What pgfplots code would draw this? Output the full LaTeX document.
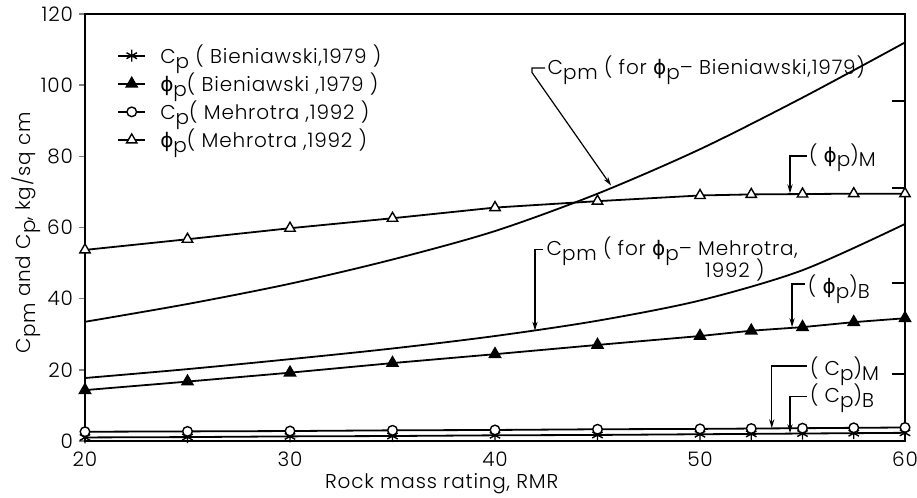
\documentclass[border=0pt]{standalone}
\usepackage{fontspec}
\IfFontExistsTF{Poppins Light}
  {\setmainfont{Poppins Light}[LetterSpace=4]}
  {\setmainfont{Poppins}[LetterSpace=4]}
\newfontfamily\greekfont{DejaVu Sans}
\usepackage{pgfplots}
\usepackage{pgfplotstable}
\pgfplotsset{compat=1.18}
\usetikzlibrary{arrows.meta}

\newcommand{\sub}[1]{\raisebox{-0.45ex}{#1}}
\newcommand{\phip}{{\greekfont ϕ}\sub{p}}
\newcommand{\labfont}{\fontsize{10}{12}\selectfont}

% RMR, Cp (Bieniawski), phi_p (Bieniawski), Cp (Mehrotra), phi_p (Mehrotra)
\pgfplotstableread{
rmr   cpB  phiB  cpM  phiM
20    1.0  14.3  2.6  53.7
25    1.1  16.7  2.7  56.7
30    1.3  19.2  2.8  59.8
35    1.4  21.9  3.0  62.6
40    1.6  24.4  3.1  65.6
45    1.7  27.0  3.3  67.4
50    1.9  29.5  3.4  69.0
52.5  2.0  31.0  3.5  69.3
55    2.1  32.0  3.6  69.4
57.5  2.2  33.4  3.7  69.5
60    2.3  34.5  3.8  69.5
}\points

% Cpm for the two phi_p relations
\pgfplotstableread{
rmr  cpmB   cpmM
20   33.5   17.7
25   38.5   20.2
30   44.2   23.0
35   51.0   26.0
40   59.0   29.5
45   69.5   33.8
50   82.0   39.5
55   96.5   48.0
60   112.0  61.0
}\cpm

\begin{document}
\begin{tikzpicture}[
  lead/.style={line width=0.6pt, -{Stealth[length=4.5pt,width=2.6pt]}},
  every node/.style={font=\labfont}]
\begin{axis}[
  scale only axis,
  width=410pt, height=213.5pt,
  xmin=20, xmax=60, ymin=0, ymax=120,
  xtick={20,30,...,60}, ytick={0,20,...,120},
  xtick pos=bottom, ytick pos=left,
  tick align=outside,
  x tick style={draw=none},
  y tick style={line width=0.8pt},
  major tick length=3pt,
  /pgf/number format/assume math mode=true,
  tick label style={font=\labfont},
  yticklabel style={xshift=0.5pt},
  xticklabel style={yshift=1pt},
  axis line style={line width=1pt},
  xlabel={Rock mass rating, RMR},
  ylabel={C\sub{pm} and C\sub{p}, kg/sq cm},
  label style={font=\labfont},
  xlabel style={at={(axis description cs:0.435,-0.1007)}, anchor=center},
  ylabel style={at={(axis description cs:-0.072,0.488)}, anchor=center},
  every axis plot/.append style={black, line width=0.9pt},
  legend cell align=left,
  legend style={draw=none, fill=none, at={(axis cs:21.55,112)}, anchor=north west,
    font=\labfont, row sep=1.2pt, inner sep=0pt,
    nodes={inner sep=1pt},
    /tikz/every odd column/.append style={column sep=6pt}},
  legend image code/.code={
    \draw[mark repeat=2, mark phase=2] plot coordinates {(0cm,0cm) (0.24cm,0cm) (0.48cm,0cm)};},
]
\addplot[mark=asterisk, mark size=3pt, mark options={line width=0.7pt}] table[x=rmr, y=cpB] {\points};
\addlegendentry{C\sub{p} ( Bieniawski,1979 )}
\addplot[mark=triangle*, mark size=3pt, mark options={fill=black}] table[x=rmr, y=phiB] {\points};
\addlegendentry{\phip( Bieniawski ,1979 )}
\addplot[mark=*, mark size=2.4pt, mark options={fill=white, line width=0.7pt}] table[x=rmr, y=cpM] {\points};
\addlegendentry{C\sub{p}( Mehrotra ,1992 )}
\addplot[mark=triangle*, mark size=3pt, mark options={fill=white, line width=0.7pt}] table[x=rmr, y=phiM] {\points};
\addlegendentry{\phip( Mehrotra ,1992 )}

\addplot[smooth, no marks, forget plot] table[x=rmr, y=cpmB] {\cpm};
\addplot[smooth, no marks, forget plot] table[x=rmr, y=cpmM] {\cpm};

% short inner ticks on the right-hand border
\draw[black, line width=0.9pt] (axis cs:59.35,95.5) -- (axis cs:60,95.5);
\draw[black, line width=0.9pt] (axis cs:59.35,71.1) -- (axis cs:60,71.1);
\draw[black, line width=0.9pt] (axis cs:59.35,44.4) -- (axis cs:60,44.4);
\draw[black, line width=0.9pt] (axis cs:59.35,18.8) -- (axis cs:60,18.8);

% leaders and curve labels
\draw[lead] (axis cs:42.45,104.8) -- (axis cs:41.8,104.8) -- (axis cs:41.8,103.6) -- (axis cs:45.66,71.8);
\node[anchor=west, inner sep=1pt] at (axis cs:42.45,104.3) {C\sub{pm} ( for \phip– Bieniawski,1979)};

\draw[lead] (axis cs:55.2,80.1) -- (axis cs:54.39,80.1) -- (axis cs:54.39,69.6);
\node[anchor=west, inner sep=1pt] at (axis cs:55.2,79.6) {( \phip)\sub{M}};

\draw[lead] (axis cs:42.35,53.9) -- (axis cs:41.95,53.9) -- (axis cs:41.95,31.0);
\node[anchor=west, inner sep=1pt] at (axis cs:42.4,53.2) {C\sub{pm} ( for \phip – Mehrotra,};
\node[inner sep=1pt] at (axis cs:51.7,48.0) {1992 )};

\draw[lead] (axis cs:55.1,44.1) -- (axis cs:54.49,44.1) -- (axis cs:54.49,32.0);
\node[anchor=west, inner sep=1pt] at (axis cs:55.15,42.6) {( \phip)\sub{B}};

\draw[lead] (axis cs:55.2,21.1) -- (axis cs:53.5,21.1) -- (axis cs:53.5,3.6);
\node[anchor=west, inner sep=1pt] at (axis cs:55.25,19.7) {( C\sub{p})\sub{M}};

\draw[lead] (axis cs:55.2,12.4) -- (axis cs:54.39,12.4) -- (axis cs:54.39,2.2);
\node[anchor=west, inner sep=1pt] at (axis cs:55.25,11.9) {( C\sub{p})\sub{B}};
\end{axis}
\pgfresetboundingbox
\useasboundingbox ([shift={(-42.5pt,-28pt)}]current axis.south west) rectangle ([shift={(6pt,7pt)}]current axis.north east);
\end{tikzpicture}
\end{document}
